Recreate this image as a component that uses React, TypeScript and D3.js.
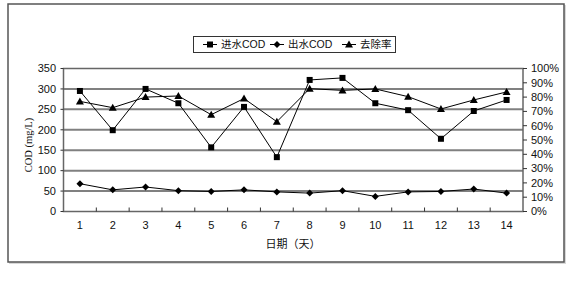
import React from "react";
import * as d3 from "d3";

const days = ["1","2","3","4","5","6","7","8","9","10","11","12","13","14"];
const inflowCOD = [295, 199, 300, 265, 157, 256, 133, 322, 327, 265, 248, 178, 246, 273];
const outflowCOD = [68, 53, 60, 51, 49, 53, 48, 45, 51, 37, 48, 49, 55, 45];
const removalRate = [0.77, 0.726, 0.80, 0.808, 0.677, 0.79, 0.628, 0.859, 0.847, 0.857, 0.803, 0.717, 0.78, 0.836];
const leftTicks = [0, 50, 100, 150, 200, 250, 300, 350];
const rightTicks = [0, 0.1, 0.2, 0.3, 0.4, 0.5, 0.6, 0.7, 0.8, 0.9, 1.0];
const seriesNames = ["进水COD", "出水COD", "去除率"];

const W = 568, H = 288;
const plot = { left: 63.5, right: 523, top: 68.5, bottom: 211.5 };
const FONT = "'Liberation Sans', 'Noto Sans CJK SC', sans-serif";

function Marker({ type, x, y }: { type: string; x: number; y: number }) {
  if (type === "square") return <rect x={x - 3} y={y - 3} width={6} height={6} fill="#000" />;
  if (type === "diamond") return <path d={`M${x},${y - 3.5}L${x + 3.5},${y}L${x},${y + 3.5}L${x - 3.5},${y}Z`} fill="#000" />;
  return <path d={`M${x},${y - 4}L${x + 4},${y + 3}L${x - 4},${y + 3}Z`} fill="#000" />;
}

export default function App() {
  const x = d3.scaleBand().domain(days).range([plot.left, plot.right]);
  const yL = d3.scaleLinear().domain([0, 350]).range([plot.bottom, plot.top]);
  const yR = d3.scaleLinear().domain([0, 1]).range([plot.bottom, plot.top]);
  const cx = (d: string) => (x(d) as number) + x.bandwidth() / 2;
  const lineL = d3.line<number>().x((_, i) => cx(days[i])).y((v) => yL(v));
  const lineR = d3.line<number>().x((_, i) => cx(days[i])).y((v) => yR(v));
  const series = [
    { vals: inflowCOD, line: lineL, y: yL, m: "square" },
    { vals: outflowCOD, line: lineL, y: yL, m: "diamond" },
    { vals: removalRate, line: lineR, y: yR, m: "triangle" },
  ];
  const legendItems = [
    { x: 203, m: "square" },
    { x: 270, m: "diamond" },
    { x: 342, m: "triangle" },
  ];
  return (
    <svg width={W} height={H} style={{ position: "absolute", left: 0, top: 0, fontFamily: FONT }}>
      <rect x={0} y={0} width={W} height={H} fill="#fff" />
      <rect x={9} y={5} width={557} height={259} fill="#d8d8d8" />
      <rect x={8} y={4} width={556} height={258} fill="#fff" stroke="#555" strokeWidth={1.5} />
      {/* grid */}
      {leftTicks.slice(1, -1).map((t) => (
        <line key={t} x1={plot.left} x2={plot.right} y1={yL(t)} y2={yL(t)} stroke="#808080" strokeWidth={2} />
      ))}
      <rect x={plot.left} y={plot.top} width={plot.right - plot.left} height={plot.bottom - plot.top} fill="none" stroke="#666" strokeWidth={1.5} />
      {/* left ticks */}
      {leftTicks.map((t) => (
        <g key={t}>
          <line x1={plot.left - 3} x2={plot.left} y1={yL(t)} y2={yL(t)} stroke="#333" />
          <text x={56} y={yL(t)} dy="0.35em" textAnchor="end" fontSize={11} fill="#111">{t}</text>
        </g>
      ))}
      {/* right ticks */}
      {rightTicks.map((t) => (
        <g key={t}>
          <line x1={plot.right} x2={plot.right + 4} y1={yR(t)} y2={yR(t)} stroke="#333" />
          <text x={531} y={yR(t)} dy="0.35em" textAnchor="start" fontSize={11} fill="#111">{`${Math.round(t * 100)}%`}</text>
        </g>
      ))}
      {/* x ticks */}
      {days.map((d, i) => (
        <g key={d}>
          {i > 0 && <line x1={x(d) as number} x2={x(d) as number} y1={plot.bottom} y2={plot.bottom - 4} stroke="#333" />}
          <text x={cx(d)} y={229} textAnchor="middle" fontSize={11} fill="#111">{d}</text>
        </g>
      ))}
      <text x={293} y={248} textAnchor="middle" fontSize={11} fill="#111">日期（天）</text>
      <text transform={`translate(32,${145}) rotate(-90)`} textAnchor="middle" fontSize={10.5} fill="#111" style={{ fontFamily: "'Liberation Serif', 'Noto Sans CJK SC', serif" }}>COD (mg/L)</text>
      {/* series */}
      {series.map((s, si) => (
        <g key={si}>
          <path d={s.line(s.vals) as string} fill="none" stroke="#000" strokeWidth={1} />
          {s.vals.map((v, i) => (
            <Marker key={i} type={s.m} x={cx(days[i])} y={s.y(v)} />
          ))}
        </g>
      ))}
      {/* legend */}
      <rect x={193.5} y={36.5} width={202} height={16} fill="#fff" stroke="#333" strokeWidth={1} />
      {legendItems.map((it, i) => (
        <g key={i}>
          <line x1={it.x} x2={it.x + 14} y1={44.5} y2={44.5} stroke="#000" />
          <Marker type={it.m} x={it.x + 7} y={44.5} />
          <text x={it.x + 18} y={44.5} dy="0.35em" fontSize={10.5} fill="#111">{seriesNames[i]}</text>
        </g>
      ))}
    </svg>
  );
}
